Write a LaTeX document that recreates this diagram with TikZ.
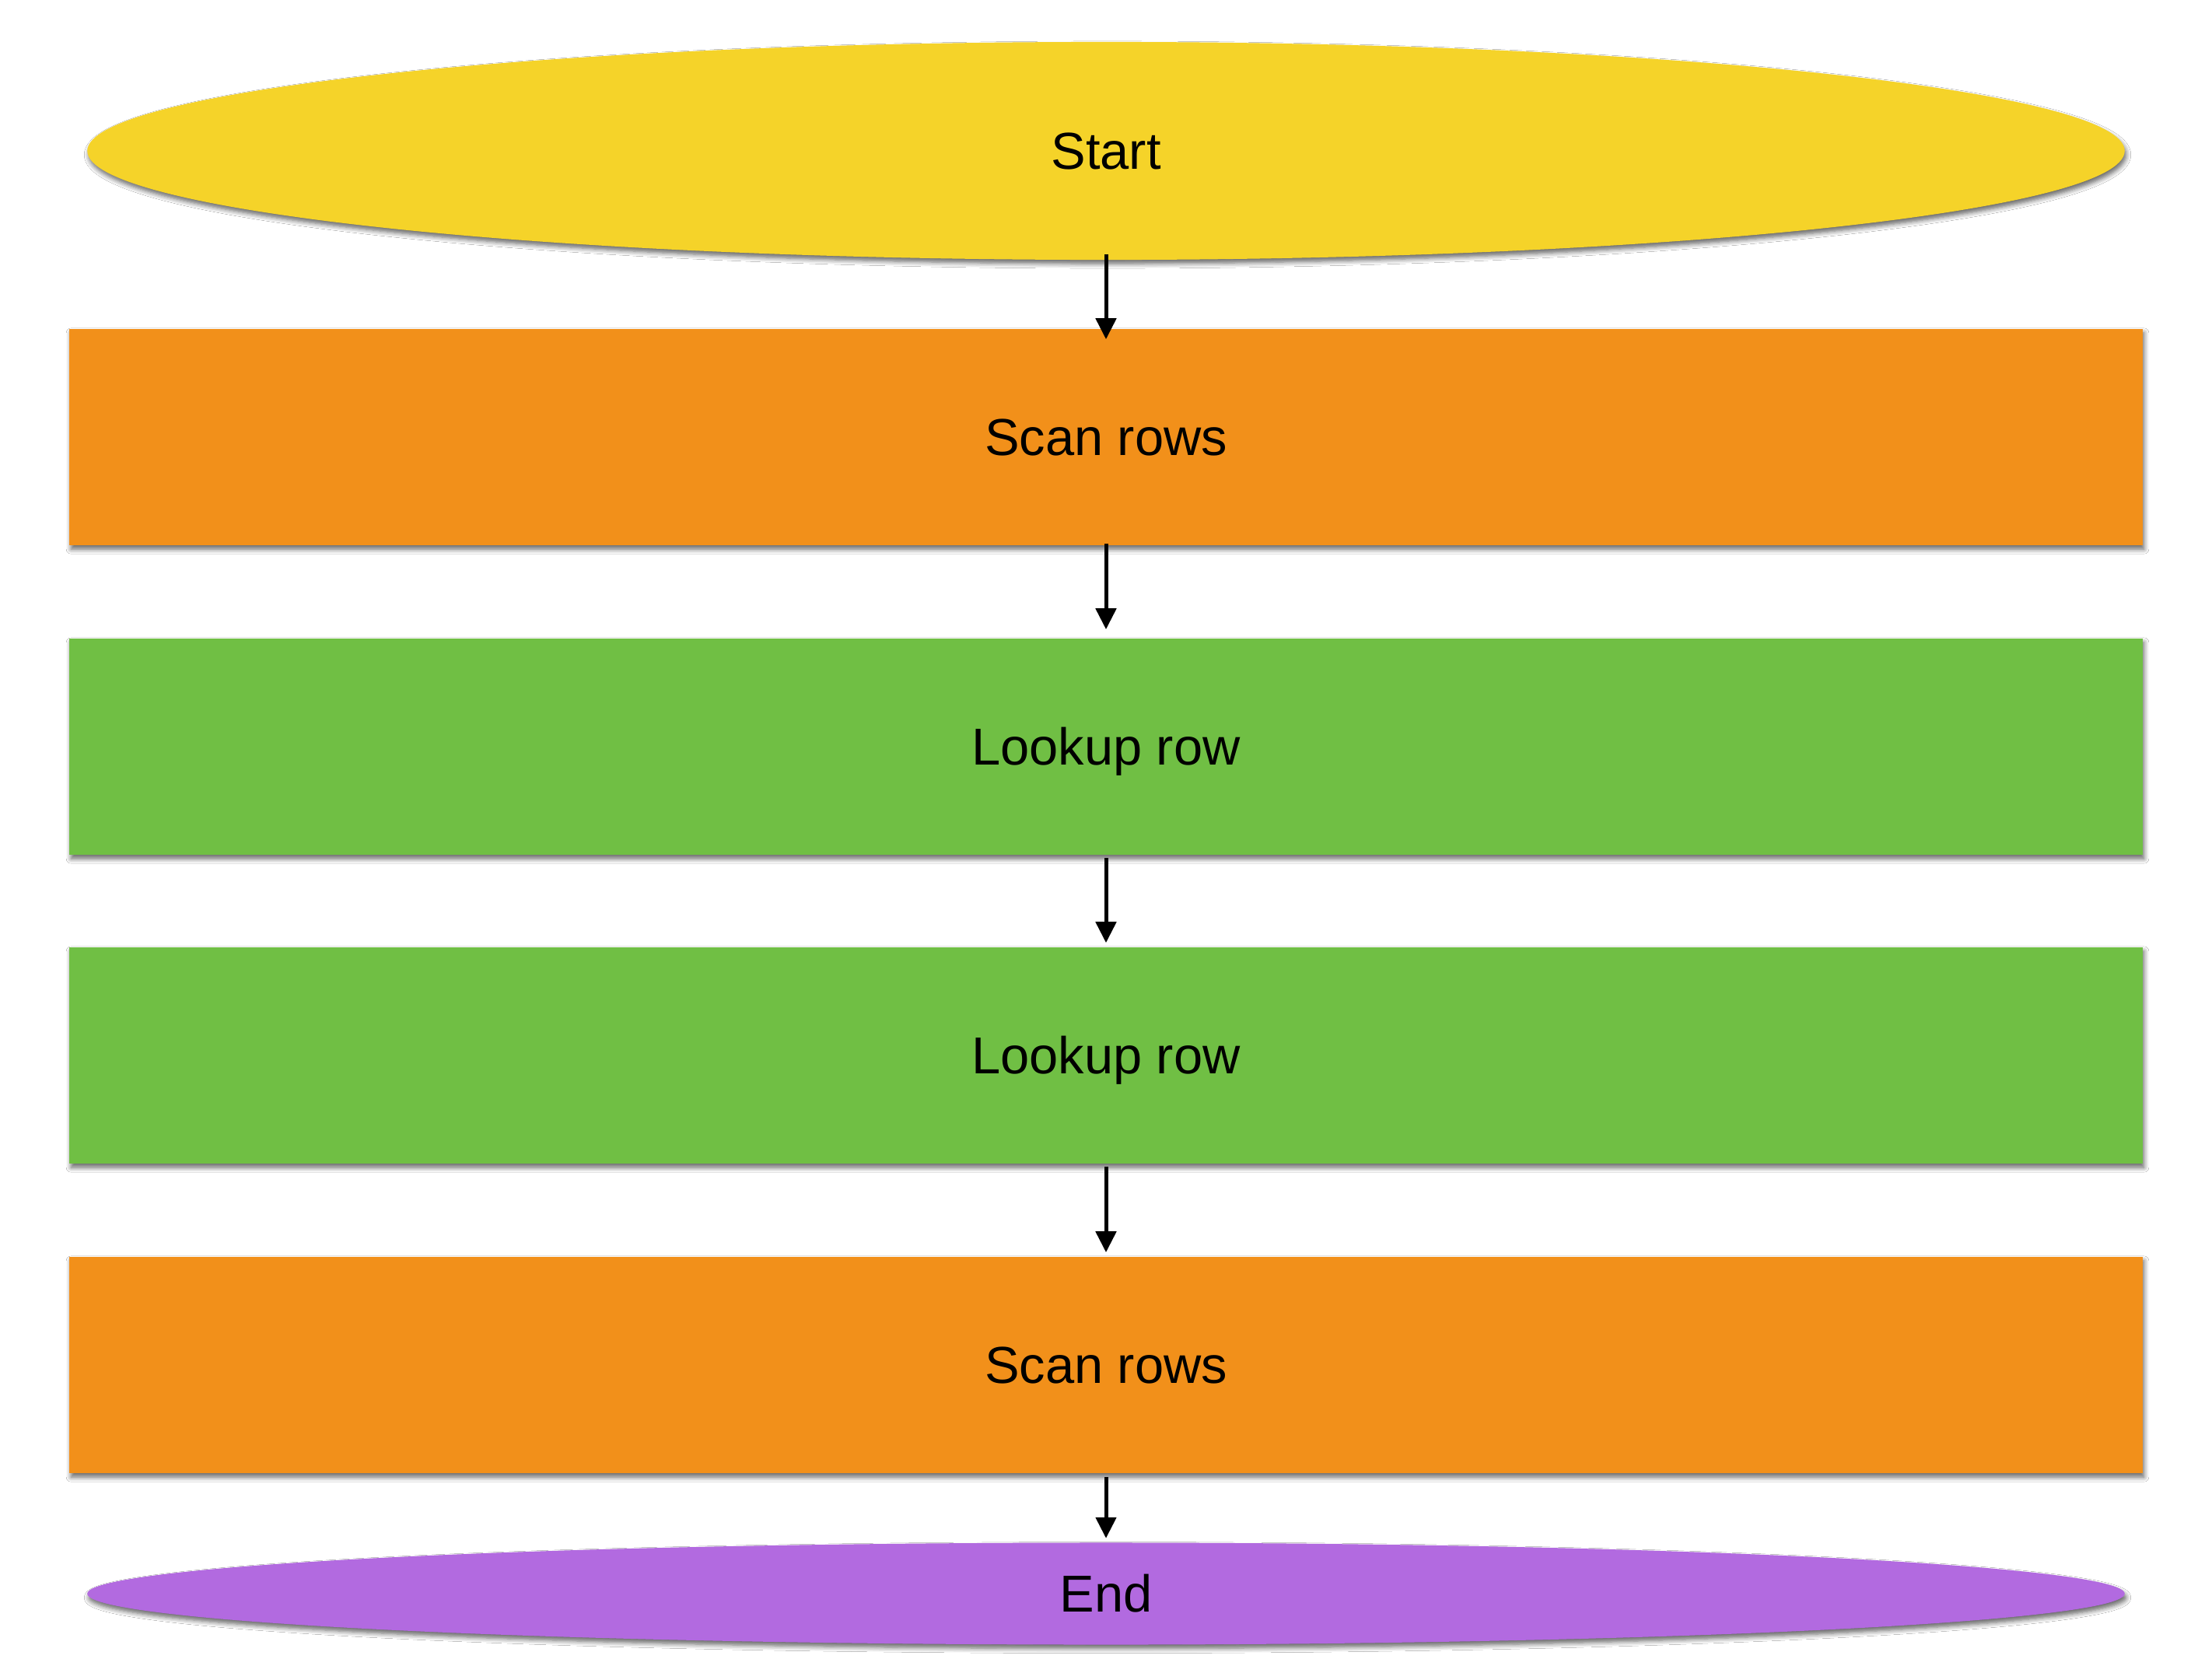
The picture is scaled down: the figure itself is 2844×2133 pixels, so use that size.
\documentclass[tikz,border=0pt]{standalone}
\usepackage{fontspec}
\setmainfont{Liberation Sans}
\usetikzlibrary{shapes.geometric,arrows.meta,shadows.blur}
\definecolor{cyellow}{RGB}{245,211,41}
\definecolor{corange}{RGB}{242,144,26}
\definecolor{cgreen}{RGB}{112,191,68}
\definecolor{cpurple}{RGB}{178,106,224}
\tikzset{
  shad/.style={blur shadow={shadow xshift=0.02cm, shadow yshift=-0.05cm, shadow blur steps=6, shadow blur radius=0.06cm, shadow opacity=60}},
  lbl/.style={font=\fontsize{19}{23}\selectfont, text height=13.4pt, text depth=0pt},
  stepbox/.style={rectangle, shad, lbl, minimum width=26.64cm, minimum height=2.78cm, inner sep=0pt},
  term/.style={ellipse, shad, lbl, minimum width=26.18cm, inner sep=0pt},
  arr/.style={line width=0.05cm, -{Triangle[width=0.26cm,length=0.27cm]}}
}
\begin{document}
\begin{tikzpicture}[x=0.01cm,y=-0.01cm]
\useasboundingbox[fill=white] (0,0) rectangle (2844,2133);
\node[term, fill=cyellow, minimum height=2.80cm] (s) at (1422,194) {Start};
\node[stepbox, fill=corange] (b1) at (1422,562) {Scan rows};
\node[stepbox, fill=cgreen] (b2) at (1422,960) {Lookup row};
\node[stepbox, fill=cgreen] (b3) at (1422,1357) {Lookup row};
\node[stepbox, fill=corange] (b4) at (1422,1755) {Scan rows};
\node[term, fill=cpurple, minimum height=1.31cm] (e) at (1422,2049) {End};
\draw[arr] ([yshift=0.08cm]s.south) -- ([yshift=-0.14cm]b1.north);
\draw[arr] ([yshift=0.03cm]b1.south) -- ([yshift=0.11cm]b2.north);
\draw[arr] ([yshift=-0.03cm]b2.south) -- ([yshift=0.05cm]b3.north);
\draw[arr] ([yshift=-0.03cm]b3.south) -- ([yshift=0.05cm]b4.north);
\draw[arr] ([yshift=-0.04cm]b4.south) -- ([yshift=0.05cm]e.north);
\end{tikzpicture}
\end{document}
